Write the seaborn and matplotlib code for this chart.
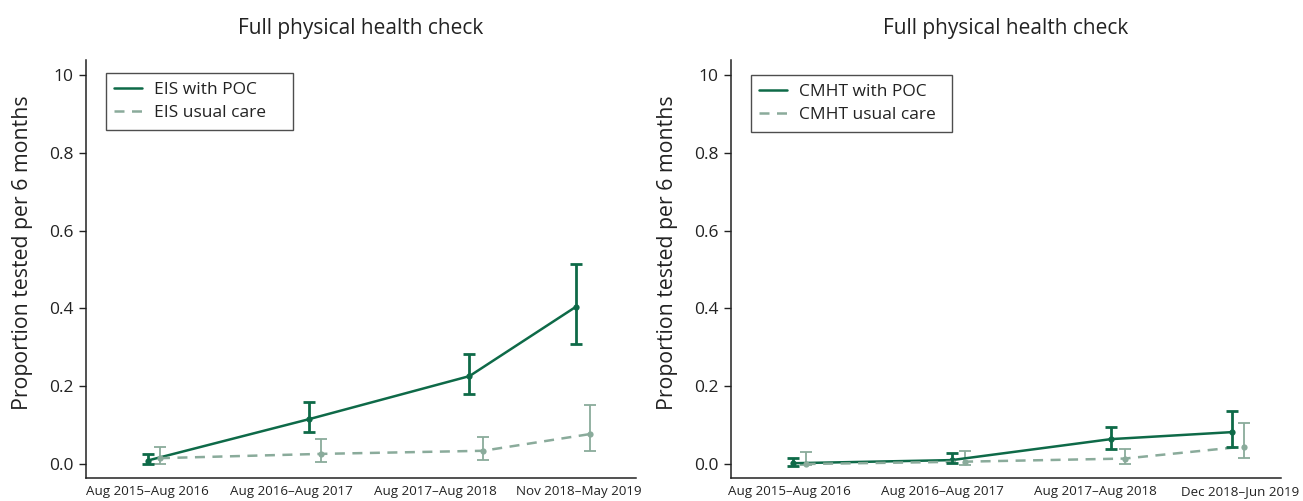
import numpy as np
import pandas as pd
import matplotlib
matplotlib.use("Agg")
import matplotlib.pyplot as plt
from matplotlib.lines import Line2D
import seaborn as sns

# ---------------- data ----------------
eis_labels = ["Aug 2015\u2013Aug 2016", "Aug 2016\u2013Aug 2017",
              "Aug 2017\u2013Aug 2018", "Nov 2018\u2013May 2019"]
cmht_labels = ["Aug 2015\u2013Aug 2016", "Aug 2016\u2013Aug 2017",
               "Aug 2017\u2013Aug 2018", "Dec 2018\u2013Jun 2019"]
eis_tick_pos = [0, 1, 2, 3]
cmht_tick_pos = [0, 1, 2, 2.945]

# x positions (in units of the period ticks)
eis_poc_x = [0.0, 1.12, 2.24, 2.98]
eis_uc_x = [0.085, 1.205, 2.335, 3.08]
eis_poc = [0.009, 0.115, 0.226, 0.404]
eis_poc_lo = [0.000, 0.082, 0.179, 0.308]
eis_poc_hi = [0.025, 0.159, 0.284, 0.514]
eis_uc = [0.015, 0.026, 0.034, 0.077]
eis_uc_lo = [0.001, 0.004, 0.011, 0.034]
eis_uc_hi = [0.045, 0.065, 0.070, 0.152]

cmht_poc_x = [0.025, 1.06, 2.10, 2.89]
cmht_uc_x = [0.107, 1.146, 2.19, 2.97]
cmht_poc = [0.002, 0.010, 0.064, 0.082]
cmht_poc_lo = [-0.004, 0.002, 0.038, 0.044]
cmht_poc_hi = [0.015, 0.028, 0.096, 0.136]
cmht_uc = [0.000, 0.006, 0.014, 0.045]
cmht_uc_lo = [-0.003, -0.003, 0.001, 0.015]
cmht_uc_hi = [0.030, 0.033, 0.038, 0.106]

y_ticks = [0.0, 0.2, 0.4, 0.6, 0.8, 1.0]
y_tick_labels = ["0.0", "0.2", "0.4", "0.6", "0.8", "10"]

# ---------------- style ----------------
sns.set_theme(style="ticks")
plt.rcParams["font.family"] = ["Open Sans", "DejaVu Sans"]

DARK = "#0e6a48"
LIGHT = "#8aab9b"
INK = "#222222"

fig = plt.figure(figsize=(13.03, 5.01), dpi=100)
ax1 = fig.add_axes([86 / 1303, 1 - 478 / 501, 550 / 1303, 418 / 501])
ax2 = fig.add_axes([731 / 1303, 1 - 478 / 501, 550 / 1303, 418 / 501])


def draw(ax, labels, tick_pos, px, p, plo, phi, ux, u, ulo, uhi, name, xlim, leg_box):
    df = pd.DataFrame({
        "x": list(px) + list(ux),
        "y": list(p) + list(u),
        "group": [f"{name} with POC"] * len(px) + [f"{name} usual care"] * len(ux),
    })
    sns.lineplot(data=df, x="x", y="y", hue="group", style="group",
                 palette={f"{name} with POC": DARK, f"{name} usual care": LIGHT},
                 dashes={f"{name} with POC": "", f"{name} usual care": (4, 3)},
                 markers={f"{name} with POC": "o", f"{name} usual care": "o"},
                 markersize=4.5, markeredgewidth=0, linewidth=1.8,
                 sort=False, ax=ax, legend=False, zorder=3)
    ax.errorbar(ux, u, yerr=[np.array(u) - np.array(ulo), np.array(uhi) - np.array(u)],
                fmt="none", ecolor=LIGHT, elinewidth=1.3, capsize=4.5, capthick=1.3, zorder=2)
    ax.errorbar(px, p, yerr=[np.array(p) - np.array(plo), np.array(phi) - np.array(p)],
                fmt="none", ecolor=DARK, elinewidth=2.0, capsize=4.5, capthick=2.0, zorder=4)

    ax.set_xlim(*xlim)
    ax.set_ylim(-0.036, 1.039)
    ax.set_xticks(tick_pos)
    ax.set_xticklabels(labels, fontsize=9.6, color=INK)
    ax.set_yticks(y_ticks)
    ax.set_yticklabels(y_tick_labels, fontsize=12.5, color=INK)
    ax.tick_params(axis="x", length=0, pad=5)
    ax.tick_params(axis="y", length=5, width=1, color=INK, pad=4)
    ax.set_xlabel("")
    ax.set_ylabel("Proportion tested per 6 months", fontsize=15.3, color=INK)
    ax.yaxis.set_label_coords(-0.096, 0.538)
    ax.set_title("Full physical health check", fontsize=15, color=INK, pad=19)
    for s in ["top", "right"]:
        ax.spines[s].set_visible(False)
    for s in ["left", "bottom"]:
        ax.spines[s].set_color(INK)
        ax.spines[s].set_linewidth(1.1)

    handles = [Line2D([], [], color=DARK, lw=1.8),
               Line2D([], [], color=LIGHT, lw=1.8, ls=(0, (4, 3)))]
    leg = ax.legend(handles, [f"{name} with POC", f"{name} usual care"],
                    loc="upper left", bbox_to_anchor=leg_box, mode="expand",
                    fontsize=12.5, frameon=True, fancybox=False, shadow=False,
                    handlelength=1.6, borderpad=0.5, labelspacing=0.42,
                    handletextpad=0.7, borderaxespad=0)
    leg.get_frame().set_edgecolor(INK)
    leg.get_frame().set_linewidth(1.0)
    for t in leg.get_texts():
        t.set_color(INK)


draw(ax1, eis_labels, eis_tick_pos, eis_poc_x, eis_poc, eis_poc_lo, eis_poc_hi,
     eis_uc_x, eis_uc, eis_uc_lo, eis_uc_hi, "EIS", (-0.43, 3.40),
     (0.036, 0.969, 0.34, 0.0))
draw(ax2, cmht_labels, cmht_tick_pos, cmht_poc_x, cmht_poc, cmht_poc_lo, cmht_poc_hi,
     cmht_uc_x, cmht_uc, cmht_uc_lo, cmht_uc_hi, "CMHT", (-0.38, 3.21),
     (0.036, 0.964, 0.365, 0.0))

fig.savefig("out.png", dpi=100)
